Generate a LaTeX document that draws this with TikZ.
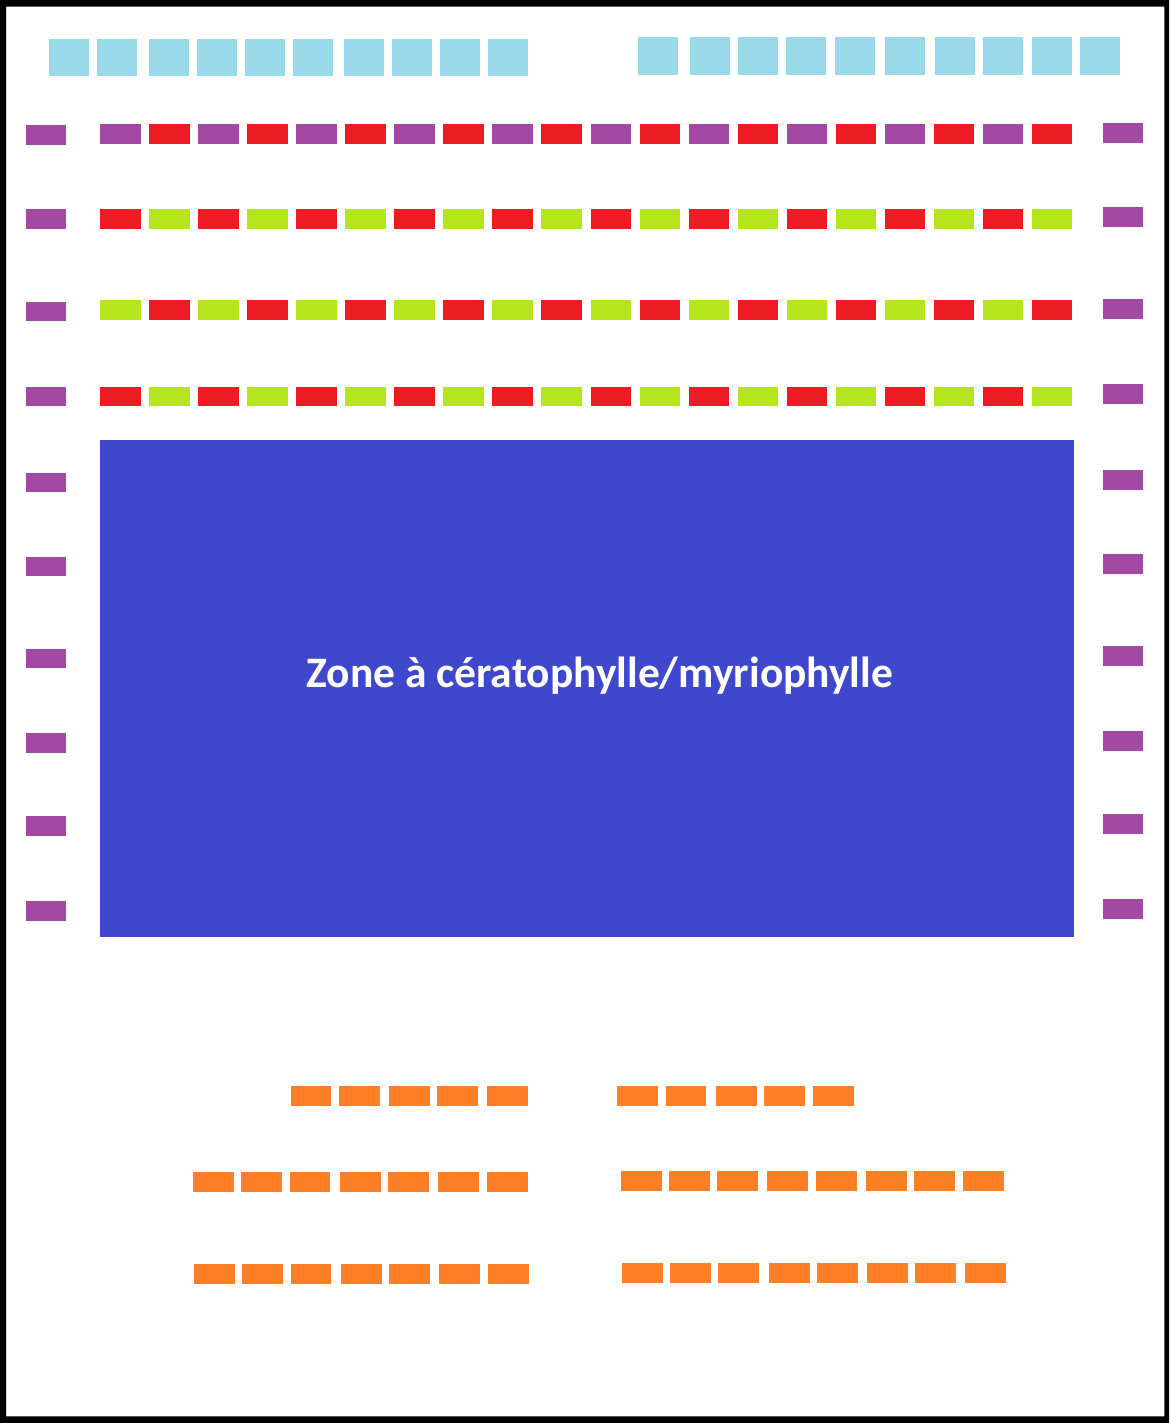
\documentclass[tikz,border=0pt]{standalone}
\usepackage{fontspec}
\newfontfamily\zonefont{Carlito}
\definecolor{cyanseat}{HTML}{99D9EA}
\definecolor{purpleseat}{HTML}{A349A4}
\definecolor{redseat}{HTML}{ED1C24}
\definecolor{greenseat}{HTML}{B5E61D}
\definecolor{orangeseat}{HTML}{FF7F27}
\definecolor{zoneblue}{HTML}{3F48CC}
\tikzset{
  seat/.style={rectangle, inner sep=0pt, outer sep=0pt, draw=none, anchor=north west,
               minimum width=40.5pt, minimum height=19.7pt},
  topseat/.style={seat, fill=cyanseat, minimum width=40pt},
  sideseat/.style={seat, fill=purpleseat, minimum width=39.5pt},
  orangebox/.style={seat, fill=orangeseat}
}
\begin{document}
\begin{tikzpicture}[x=1pt,y=-1pt]
\useasboundingbox (0,0) rectangle (1169,1423);
\fill[white] (0,0) rectangle (1169,1423);
% frame
\fill[black, even odd rule] (0,0) rectangle (1169,1423) (6,6.7) rectangle (1164.3,1416.3);

% top cyan rows
\foreach \x [count=\i] in {49,97,149,197,245,293,344,392,440,488}
  \node[topseat, minimum height=37pt] (tl\i) at (\x,39) {};
\foreach \x [count=\i] in {638,690,738,786,835,885,935,983,1032,1080}
  \node[topseat, minimum height=38pt] (tr\i) at (\x,37) {};

% main rows
\foreach \i in {0,...,19}{
  \pgfmathsetmacro{\xx}{100+49.05*\i}
  \pgfmathtruncatemacro{\parity}{mod(\i,2)}
  \ifnum\parity=0
    \node[seat, fill=purpleseat] (ra\i) at (\xx,124) {};
    \node[seat, fill=redseat] (rb\i) at (\xx,209) {};
    \node[seat, fill=greenseat] (rc\i) at (\xx,300) {};
    \node[seat, fill=redseat] (rd\i) at (\xx,386.5) {};
  \else
    \node[seat, fill=redseat] (ra\i) at (\xx,124) {};
    \node[seat, fill=greenseat] (rb\i) at (\xx,209) {};
    \node[seat, fill=redseat] (rc\i) at (\xx,300) {};
    \node[seat, fill=greenseat] (rd\i) at (\xx,386.5) {};
  \fi
}

% side purple columns
\foreach \y [count=\i] in {125,209,301.5,386.5,472.5,556.5,648.5,733,816,901}
  \node[sideseat] (sl\i) at (26,\y) {};
\foreach \y [count=\i] in {123,207,299,384,470,554,646,731,814,899}
  \node[sideseat] (sr\i) at (1103,\y) {};

% central zone
\node[rectangle, fill=zoneblue, draw=none, inner sep=0pt, anchor=north west,
      minimum width=973.3pt, minimum height=497pt] (zone) at (100,440) {};
\node[anchor=base, text=white, inner sep=0pt, font=\zonefont\bfseries\fontsize{43.5}{52}\selectfont]
  (zonelabel) at (599.7,687.5) {Zone à cératophylle/myriophylle};

% orange rows
\foreach \x [count=\i] in {290.7,339,389,437,487}
  \node[orangebox] (oal\i) at (\x,1086) {};
\foreach \x [count=\i] in {617.3,665.7,716,764,813}
  \node[orangebox] (oar\i) at (\x,1086) {};
\foreach \x [count=\i] in {193,241,289.5,340,388,438,487}
  \node[orangebox] (obl\i) at (\x,1172.3) {};
\foreach \x [count=\i] in {621,669,717,767,816,866,914,963}
  \node[orangebox] (obr\i) at (\x,1171) {};
\foreach \x [count=\i] in {194,242,290.5,341,389,439,488}
  \node[orangebox] (ocl\i) at (\x,1264) {};
\foreach \x [count=\i] in {622,670,718,769,817,867,915,965}
  \node[orangebox] (ocr\i) at (\x,1263) {};
\end{tikzpicture}
\end{document}
